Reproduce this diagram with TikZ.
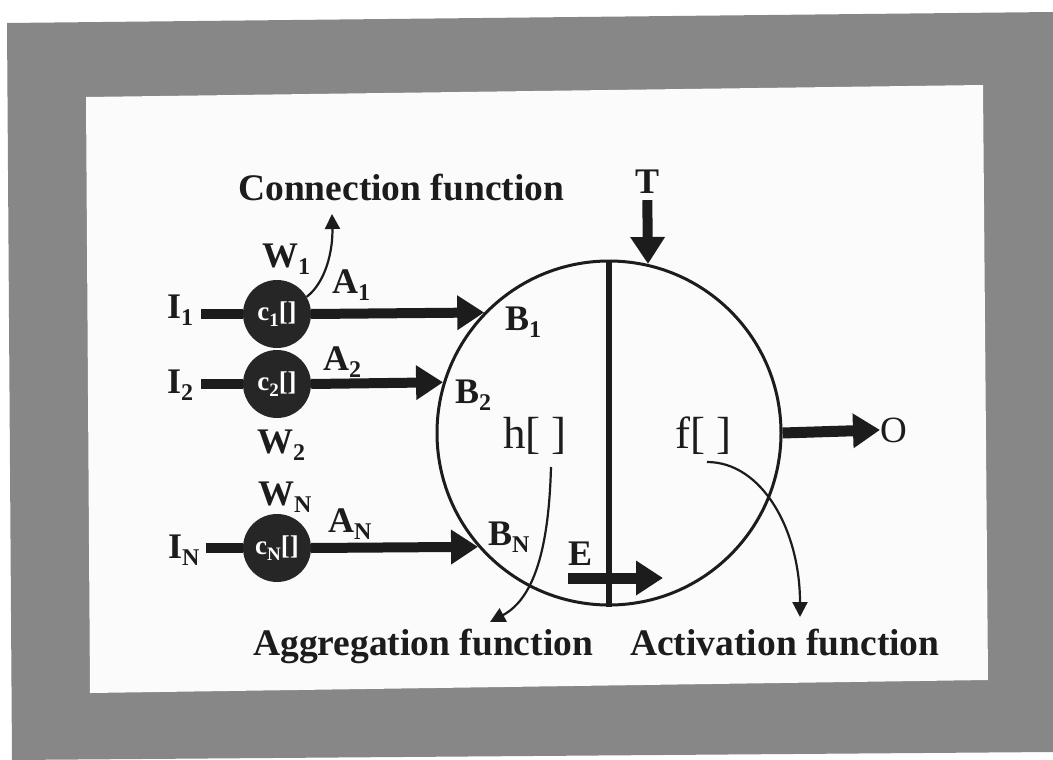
\documentclass[tikz,border=0pt]{standalone}
\usepackage{fontspec}
\setmainfont{Liberation Serif}
\usetikzlibrary{arrows.meta,shapes.geometric}
\definecolor{framegray}{HTML}{878787}
\definecolor{paper}{HTML}{FBFBFB}
\definecolor{ink}{HTML}{1C1C1C}
\definecolor{cdark}{HTML}{262626}
\newcommand\lbsub[2]{#1\raisebox{-0.21em}{\fontsize{24}{24}\selectfont #2}}
\newcommand\csub[1]{c\raisebox{-0.22em}{\fontsize{19}{19}\selectfont #1}[]}
\begin{document}
\begin{tikzpicture}[x=1pt,y=-1pt,
  lab/.style={font=\fontsize{36}{40}\selectfont\bfseries, inner sep=0pt, anchor=base west, text=ink},
  flab/.style={font=\fontsize{37.5}{42}\selectfont\bfseries, inner sep=0pt, anchor=base west, text=ink},
  rlab/.style={font=\fontsize{45}{48}\selectfont, inner sep=0pt, anchor=base west, text=ink},
  cnode/.style={circle, fill=cdark, minimum size=68pt, inner sep=0pt, text=white, font=\fontsize{27}{28}\selectfont\bfseries},
  fatarrow/.style={draw=ink, line width=10pt, -{Triangle[width=33pt,length=27pt]}},
  thinarrow/.style={draw=ink, line width=2.2pt, -{Triangle[width=15pt,length=15pt]}},
  fatline/.style={draw=ink, line width=10pt}
]
\useasboundingbox (0,0) rectangle (1053,760);
\fill[white] (0,0) rectangle (1053,760);
% frame
\fill[framegray] (7,23) -- (1053,12) -- (1053,752) -- (12,760) -- cycle;
\fill[paper] (86,97) -- (983,85) -- (988,680) -- (90,693) -- cycle;

% neuron
\node[circle, draw=ink, line width=3pt, minimum size=344pt, inner sep=0pt] (neuron) at (609,433) {};
\draw[ink, line width=6pt] (neuron.north) -- (neuron.south);

% connection units
\node[cnode] (c1) at (277,314) {\csub{1}};
\node[cnode] (c2) at (277,384) {\csub{2}};
\node[cnode] (cN) at (277,548) {\csub{N}};

% input labels
\node[lab] (I1) at (167,318) {\lbsub{I}{1}};
\node[lab] (I2) at (167,393) {\lbsub{I}{2}};
\node[lab] (IN) at (168,558) {\lbsub{I}{N}};

\draw[fatline, shorten <=8pt] (I1.east |- c1) -- (c1.west);
\draw[fatline, shorten <=8pt] (I2.east |- c2) -- (c2.west);
\draw[fatline, shorten <=6pt] (IN.east |- cN) -- (cN.west);

% weighted arrows into neuron
\draw[fatarrow] (c1.east) -- (neuron.136.2);
\draw[fatarrow] (c2.east) -- (neuron.163.45);
\draw[fatarrow] (cN.east) -- (neuron.221.97);

% labels W, A, B
\node[lab] (W1) at (262,267) {\lbsub{W}{1}};
\node[lab] (W2) at (257,453) {\lbsub{W}{2}};
\node[lab] (WN) at (258,505) {\lbsub{W}{N}};
\node[lab] (A1) at (332,293) {\lbsub{A}{1}};
\node[lab] (A2) at (323,370) {\lbsub{A}{2}};
\node[lab] (AN) at (328,532) {\lbsub{A}{N}};
\node[lab] (B1) at (505,330) {\lbsub{B}{1}};
\node[lab] (B2) at (455,403) {\lbsub{B}{2}};
\node[lab] (BN) at (488,545) {\lbsub{B}{N}};

% T input
\node[lab] (T) at (635,193) {T};
\draw[fatarrow, shorten <=7pt] (T.south) -- (neuron.77.9);

% E input
\node[lab] (E) at (568,565) {E};
\coordinate (Es) at (568,578);
\coordinate (Ee) at (663,578);
\draw[fatarrow, line width=11pt] (Es) -- (Ee);

% functions inside
\node[rlab] (h) at (503,448) {h[ ]};
\node[rlab] (f) at (675,448) {f[ ]};

% output
\node[rlab, font=\fontsize{37}{40}\selectfont] (O) at (880,442) {O};
\draw[fatarrow, line width=11pt] (neuron.east) -- (O.west);

% function labels
\node[flab] (conn) at (238,200) {Connection function};
\node[flab] (aggr) at (253,655) {Aggregation function};
\node[flab] (activ) at (630,655) {Activation function};

% thin curved pointers
\coordinate (connTip) at (332,214);
\draw[thinarrow] (c1.30) .. controls (326,282) and (333,250) .. (connTip);
\coordinate (hStart) at (551,467);
\coordinate (hTip) at (490,622);
\draw[thinarrow] (hStart) .. controls (549,540) and (537,597) .. (hTip);
\coordinate (fStart) at (707,462);
\coordinate (fTip) at (800,617);
\draw[thinarrow] (fStart) .. controls (762,462) and (800,530) .. (fTip);
\end{tikzpicture}
\end{document}
